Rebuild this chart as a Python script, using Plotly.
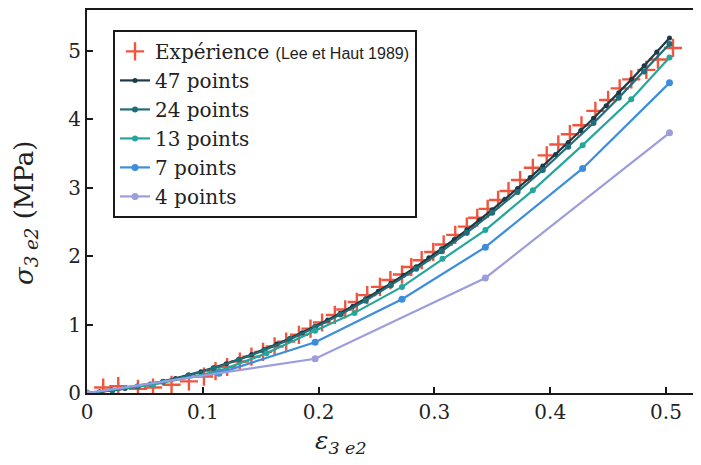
import plotly.graph_objects as go

# ---------------- data ----------------
exp_x = [0.014, 0.027, 0.044, 0.057, 0.073, 0.088, 0.101, 0.111, 0.121, 0.132, 0.142, 0.152,
         0.162, 0.172, 0.183, 0.193, 0.203, 0.214, 0.223, 0.233, 0.242, 0.253, 0.262, 0.272,
         0.280, 0.289, 0.299, 0.308, 0.318, 0.328, 0.337, 0.346, 0.355, 0.364, 0.374, 0.385,
         0.397, 0.407, 0.417, 0.427, 0.439, 0.450, 0.460, 0.470, 0.483, 0.493, 0.506]
exp_y = [0.08, 0.10, 0.06, 0.08, 0.12, 0.17, 0.24, 0.32, 0.38, 0.46, 0.53, 0.60,
         0.68, 0.75, 0.85, 0.94, 1.03, 1.14, 1.22, 1.33, 1.43, 1.55, 1.65, 1.73,
         1.84, 1.94, 2.06, 2.17, 2.31, 2.43, 2.56, 2.69, 2.82, 2.95, 3.11, 3.29,
         3.47, 3.63, 3.78, 3.91, 4.12, 4.28, 4.45, 4.58, 4.72, 4.87, 5.04]

p47_x = [0.0, 0.0109, 0.0219, 0.0328, 0.0437, 0.0547, 0.0656, 0.0765, 0.0875, 0.0984,
         0.1093, 0.1203, 0.1312, 0.1422, 0.1531, 0.1640, 0.1750, 0.1859, 0.1968, 0.2078,
         0.2187, 0.2296, 0.2406, 0.2515, 0.2624, 0.2734, 0.2843, 0.2952, 0.3062, 0.3171,
         0.3280, 0.3390, 0.3499, 0.3608, 0.3718, 0.3827, 0.3936, 0.4046, 0.4155, 0.4264,
         0.4374, 0.4483, 0.4592, 0.4702, 0.4811, 0.4920, 0.5030]
p47_y = [0.0, 0.017, 0.039, 0.065, 0.096, 0.130, 0.169, 0.213, 0.260, 0.312,
         0.368, 0.429, 0.494, 0.563, 0.636, 0.714, 0.795, 0.881, 0.972, 1.066,
         1.165, 1.268, 1.375, 1.486, 1.602, 1.721, 1.845, 1.974, 2.106, 2.242,
         2.383, 2.528, 2.677, 2.830, 2.987, 3.148, 3.314, 3.484, 3.657, 3.835,
         4.012, 4.197, 4.386, 4.581, 4.778, 4.979, 5.186]

p24_x = [0.0, 0.0219, 0.0437, 0.0656, 0.0875, 0.1093, 0.1312, 0.1531, 0.1750, 0.1968,
         0.2187, 0.2406, 0.2624, 0.2843, 0.3062, 0.3280, 0.3499, 0.3718, 0.3936, 0.4155,
         0.4374, 0.4592, 0.4811, 0.5030]
p24_y = [0.0, 0.038, 0.094, 0.166, 0.256, 0.362, 0.486, 0.625, 0.781, 0.955,
         1.145, 1.352, 1.575, 1.814, 2.070, 2.342, 2.632, 2.936, 3.258, 3.595,
         3.944, 4.311, 4.697, 5.098]

p13_x = [0.0, 0.057, 0.114, 0.155, 0.197, 0.231, 0.272, 0.307, 0.344, 0.385, 0.428, 0.470, 0.503]
p13_y = [0.0, 0.12, 0.32, 0.58, 0.91, 1.17, 1.55, 1.96, 2.38, 2.96, 3.62, 4.29, 4.90]

p7_x = [0.0, 0.114, 0.197, 0.272, 0.344, 0.428, 0.503]
p7_y = [0.0, 0.29, 0.74, 1.37, 2.13, 3.28, 4.53]

p4_x = [0.0, 0.197, 0.344, 0.503]
p4_y = [0.0, 0.50, 1.68, 3.80]

x_ticks = [0, 0.1, 0.2, 0.3, 0.4, 0.5]
x_tick_labels = ["0", "0.1", "0.2", "0.3", "0.4", "0.5"]
y_ticks = [0, 1, 2, 3, 4, 5]
y_tick_labels = ["0", "1", "2", "3", "4", "5"]

# ---------------- figure ----------------
SERIF = "DejaVu Serif"
RED = "#F0553F"

fig = go.Figure()

fig.add_trace(go.Scatter(
    x=exp_x, y=exp_y, mode="markers",
    name="Expérience <span style='font-family:Liberation Sans;font-size:16px'>(Lee et Haut 1989)</span>",
    marker=dict(symbol="cross-thin", size=13, line=dict(width=2.4, color=RED), color=RED),
))

series = [
    ("47 points", p47_x, p47_y, "#1C3A47", 5),
    ("24 points", p24_x, p24_y, "#1F6E78", 6),
    ("13 points", p13_x, p13_y, "#25A69B", 6),
    ("7 points", p7_x, p7_y, "#3C8EDD", 7),
    ("4 points", p4_x, p4_y, "#9D9DDC", 7),
]
for name, xs, ys, col, ms in series:
    fig.add_trace(go.Scatter(
        x=xs, y=ys, mode="lines+markers", name=name,
        line=dict(color=col, width=2.2),
        marker=dict(color=col, size=ms, symbol="circle"),
    ))

axis_common = dict(
    showgrid=False, zeroline=False, showline=True, linecolor="#1a1a1a", linewidth=2,
    ticks="inside", ticklen=6, tickwidth=1.5, tickcolor="#1a1a1a",
    tickfont=dict(family=SERIF, size=20, color="#222"),
)

# page body has an 8px margin: figure is sized/offset so the plot area sits
# at page x 87.., y 10..393
PW = 606  # plot-area width in px
fig.update_layout(
    width=685, height=457,
    margin=dict(l=79, r=0, t=2, b=72),
    paper_bgcolor="white", plot_bgcolor="white",
    xaxis=dict(range=[0, 0.5233], tickvals=x_ticks, ticktext=x_tick_labels, mirror=True, **axis_common),
    yaxis=dict(range=[0, 5.594], tickvals=y_ticks, ticktext=y_tick_labels, mirror=False, **axis_common),
    legend=dict(
        x=(113 - 87) / PW, y=0.948, xanchor="left", yanchor="top",
        bgcolor="white", bordercolor="#1a1a1a", borderwidth=2,
        font=dict(family=SERIF, size=20, color="#222"),
        itemwidth=30, tracegroupgap=0,
    ),
    showlegend=True,
    annotations=[
        dict(text="<i>ε</i><sub><i>3 e2</i></sub>", xref="paper", yref="paper",
             x=(341 - 87) / PW, y=(393 - 442) / 383, xanchor="center", yanchor="middle",
             showarrow=False, font=dict(family=SERIF, size=25, color="#222")),
        dict(text="<i>σ</i><sub><i>3 e2</i></sub> (MPa)", xref="paper", yref="paper",
             x=(25 - 87) / PW, y=(393 - 213) / 383, xanchor="center", yanchor="middle",
             textangle=-90, showarrow=False, font=dict(family=SERIF, size=26, color="#222")),
    ],
)

fig.write_html("out.html")
